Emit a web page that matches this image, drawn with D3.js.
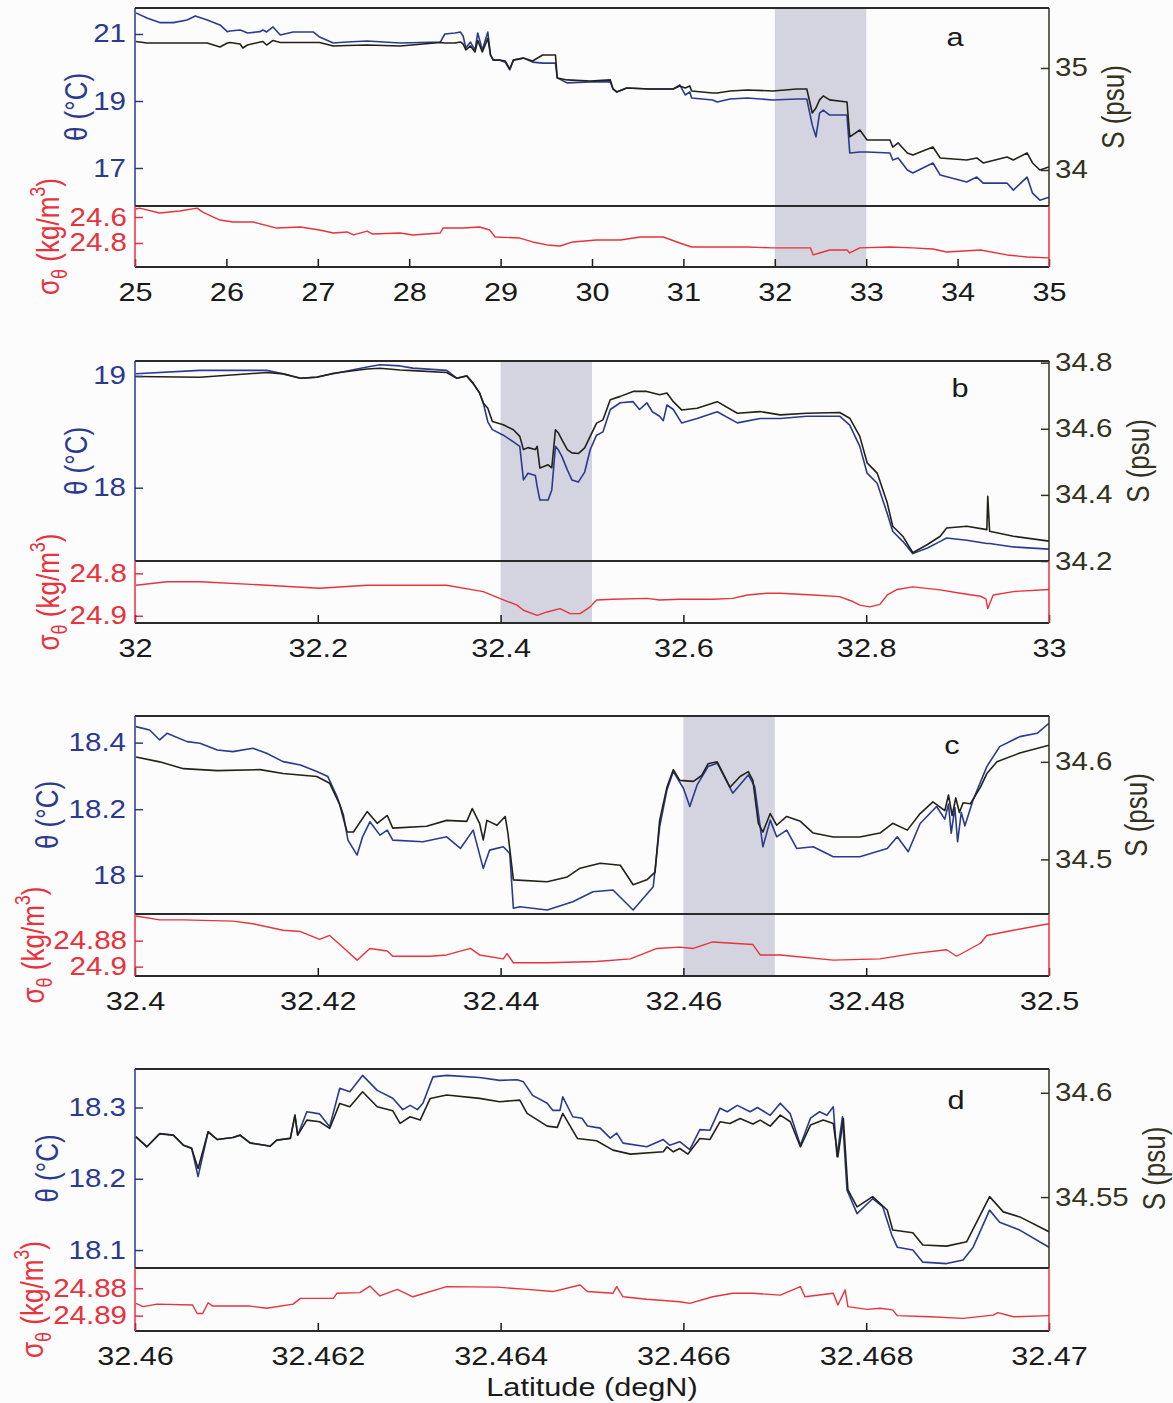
<!DOCTYPE html>
<html><head><meta charset="utf-8">
<script src="https://cdn.jsdelivr.net/npm/d3@7"></script>
<style>body{margin:0;background:#fcfcfd} svg{display:block} text{font-family:"Liberation Sans",Arial,sans-serif}</style>
</head><body><svg id="c" width="1173" height="1403"></svg>
<script>
// ---------------- DATA ----------------
// panel a : 25–35 degN
const thetaA = [[25.01,21.63],[25.13,21.48],[25.27,21.34],[25.42,21.34],[25.57,21.42],[25.66,21.54],[25.79,21.42],[25.93,21.27],[26.01,21.07],[26.04,21.09],[26.15,21.12],[26.18,21.09],[26.23,21.03],[26.37,21.07],[26.40,21.12],[26.44,21.06],[26.51,21.21],[26.59,20.97],[26.73,21.06],[26.95,21.06],[27.02,20.91],[27.17,20.73],[27.32,20.76],[27.54,20.79],[27.90,20.73],[28.34,20.76],[28.39,21.0],[28.50,21.03],[28.56,21.06],[28.59,20.94],[28.62,20.58],[28.67,20.76],[28.72,20.52],[28.75,21.03],[28.80,20.52],[28.86,21.06],[28.89,20.37],[28.92,20.22],[28.99,20.22],[29.05,20.16],[29.10,19.93],[29.14,20.22],[29.25,20.28],[29.35,20.16],[29.46,20.13],[29.60,20.13],[29.62,19.69],[29.73,19.54],[29.98,19.57],[30.20,19.57],[30.23,19.36],[30.27,19.27],[30.38,19.39],[30.63,19.36],[30.89,19.36],[30.96,19.48],[31.02,19.18],[31.07,19.27],[31.09,19.09],[31.32,19.03],[31.37,18.97],[31.51,19.06],[31.70,19.09],[31.98,19.03],[32.24,19.06],[32.35,19.06],[32.41,18.28],[32.45,17.93],[32.49,18.64],[32.53,18.73],[32.60,18.58],[32.79,18.58],[32.82,17.45],[32.93,17.48],[33.01,17.48],[33.26,17.45],[33.29,17.24],[33.35,17.30],[33.45,16.94],[33.51,16.85],[33.73,17.15],[33.81,16.79],[34.10,16.58],[34.21,16.73],[34.28,16.55],[34.54,16.55],[34.61,16.34],[34.76,16.73],[34.82,16.25],[34.90,16.04],[35.0,16.13]];
const salA = [[25.01,35.26],[25.13,35.245],[25.27,35.245],[25.42,35.245],[25.57,35.245],[25.66,35.245],[25.79,35.245],[25.93,35.206],[26.01,35.245],[26.04,35.25],[26.15,35.235],[26.18,35.196],[26.23,35.225],[26.37,35.255],[26.40,35.26],[26.44,35.225],[26.51,35.27],[26.59,35.25],[26.73,35.25],[26.95,35.25],[27.02,35.25],[27.17,35.216],[27.32,35.22],[27.54,35.225],[27.90,35.216],[28.34,35.25],[28.39,35.245],[28.50,35.245],[28.56,35.255],[28.59,35.235],[28.62,35.176],[28.67,35.216],[28.72,35.157],[28.75,35.27],[28.80,35.157],[28.86,35.29],[28.89,35.127],[28.92,35.078],[28.99,35.078],[29.05,35.069],[29.10,34.99],[29.14,35.078],[29.25,35.098],[29.35,35.069],[29.46,35.127],[29.60,35.127],[29.62,34.902],[29.73,34.883],[29.98,34.873],[30.20,34.883],[30.23,34.794],[30.27,34.765],[30.38,34.804],[30.63,34.794],[30.89,34.794],[30.96,34.824],[31.02,34.804],[31.07,34.824],[31.09,34.775],[31.32,34.755],[31.37,34.755],[31.51,34.775],[31.70,34.784],[31.98,34.775],[32.24,34.794],[32.35,34.794],[32.41,34.559],[32.45,34.608],[32.49,34.687],[32.53,34.726],[32.60,34.687],[32.79,34.667],[32.82,34.324],[32.93,34.392],[33.01,34.294],[33.26,34.294],[33.29,34.225],[33.35,34.265],[33.45,34.167],[33.51,34.147],[33.73,34.225],[33.81,34.118],[34.10,34.098],[34.21,34.118],[34.28,34.069],[34.54,34.128],[34.61,34.098],[34.76,34.167],[34.82,34.069],[34.90,34.0],[35.0,34.029]];
const sigmaA = [[25.01,24.538],[25.05,24.531],[25.27,24.569],[25.49,24.554],[25.68,24.531],[25.74,24.562],[25.93,24.623],[26.07,24.638],[26.29,24.638],[26.55,24.685],[26.81,24.677],[27.02,24.700],[27.17,24.723],[27.32,24.715],[27.39,24.738],[27.54,24.708],[27.60,24.731],[27.90,24.723],[28.04,24.738],[28.34,24.723],[28.37,24.685],[28.59,24.685],[28.77,24.677],[28.88,24.700],[28.94,24.754],[29.21,24.762],[29.35,24.792],[29.51,24.815],[29.65,24.823],[29.79,24.792],[30.05,24.777],[30.31,24.777],[30.53,24.754],[30.78,24.754],[30.96,24.800],[31.09,24.831],[31.32,24.831],[31.70,24.831],[31.98,24.838],[32.39,24.838],[32.42,24.892],[32.49,24.877],[32.60,24.854],[32.79,24.854],[32.82,24.877],[32.93,24.838],[33.26,24.831],[33.51,24.838],[33.73,24.846],[33.88,24.869],[34.25,24.854],[34.54,24.892],[34.76,24.908],[35.0,24.915]];
const xTicksA = [25,26,27,28,29,30,31,32,33,34,35];
const thetaTicksA = [17,19,21];
const salTicksA = [34,35];
const sigmaTicksA = [24.6,24.8];
const shadeA = [32,33];

// panel b : 32–33 degN
const thetaB = [[32.001,19.02],[32.071,19.05],[32.144,19.05],[32.162,19.02],[32.181,18.98],[32.199,18.99],[32.217,19.02],[32.254,19.08],[32.268,19.10],[32.290,19.09],[32.304,19.07],[32.341,19.05],[32.352,18.98],[32.363,19.0],[32.370,18.93],[32.377,18.85],[32.381,18.76],[32.386,18.59],[32.391,18.52],[32.403,18.47],[32.414,18.41],[32.421,18.37],[32.425,18.07],[32.430,18.13],[32.438,18.11],[32.440,18.01],[32.443,17.89],[32.452,17.89],[32.456,17.98],[32.460,18.37],[32.463,18.34],[32.467,18.28],[32.473,18.16],[32.478,18.07],[32.485,18.05],[32.492,18.14],[32.498,18.34],[32.505,18.47],[32.512,18.50],[32.520,18.70],[32.531,18.76],[32.545,18.77],[32.552,18.70],[32.560,18.76],[32.566,18.68],[32.574,18.64],[32.578,18.60],[32.582,18.74],[32.589,18.70],[32.598,18.58],[32.615,18.62],[32.637,18.68],[32.659,18.58],[32.684,18.62],[32.706,18.62],[32.735,18.64],[32.771,18.64],[32.782,18.56],[32.793,18.37],[32.801,18.13],[32.812,18.04],[32.823,17.77],[32.829,17.61],[32.840,17.52],[32.851,17.41],[32.867,17.46],[32.881,17.52],[32.888,17.55],[32.910,17.53],[32.932,17.50],[32.935,17.50],[32.961,17.47],[33.0,17.45]];
const salB = [[32.001,34.758],[32.071,34.756],[32.144,34.770],[32.162,34.766],[32.181,34.753],[32.199,34.756],[32.217,34.768],[32.254,34.781],[32.268,34.783],[32.290,34.778],[32.304,34.776],[32.341,34.770],[32.352,34.753],[32.363,34.760],[32.370,34.738],[32.377,34.708],[32.381,34.678],[32.386,34.662],[32.391,34.622],[32.403,34.612],[32.414,34.597],[32.421,34.577],[32.425,34.537],[32.430,34.543],[32.438,34.537],[32.440,34.547],[32.443,34.481],[32.452,34.491],[32.456,34.482],[32.460,34.597],[32.463,34.588],[32.467,34.567],[32.473,34.537],[32.478,34.527],[32.485,34.525],[32.492,34.542],[32.498,34.577],[32.505,34.617],[32.512,34.627],[32.520,34.688],[32.531,34.698],[32.545,34.713],[32.560,34.713],[32.574,34.703],[32.582,34.708],[32.589,34.682],[32.598,34.657],[32.615,34.662],[32.637,34.682],[32.659,34.647],[32.684,34.652],[32.706,34.642],[32.735,34.647],[32.771,34.649],[32.782,34.632],[32.793,34.577],[32.801,34.497],[32.812,34.466],[32.823,34.376],[32.829,34.305],[32.840,34.275],[32.851,34.225],[32.867,34.250],[32.881,34.275],[32.888,34.300],[32.910,34.305],[32.932,34.295],[32.933,34.396],[32.935,34.290],[32.961,34.275],[33.0,34.260]];
const sigmaB = [[32.001,24.828],[32.035,24.820],[32.071,24.820],[32.144,24.828],[32.202,24.835],[32.254,24.828],[32.290,24.828],[32.341,24.828],[32.370,24.839],[32.381,24.843],[32.399,24.859],[32.418,24.875],[32.425,24.887],[32.440,24.899],[32.451,24.891],[32.465,24.883],[32.476,24.895],[32.487,24.895],[32.498,24.879],[32.505,24.863],[32.523,24.861],[32.560,24.859],[32.574,24.863],[32.596,24.861],[32.632,24.861],[32.654,24.859],[32.670,24.851],[32.691,24.847],[32.706,24.847],[32.742,24.851],[32.771,24.855],[32.786,24.867],[32.793,24.875],[32.804,24.879],[32.815,24.873],[32.823,24.851],[32.834,24.838],[32.851,24.832],[32.881,24.839],[32.903,24.847],[32.925,24.854],[32.931,24.860],[32.933,24.883],[32.939,24.851],[32.961,24.843],[33.0,24.838]];
const xTicksB = [32,32.2,32.4,32.6,32.8,33];
const thetaTicksB = [18,19];
const salTicksB = [34.2,34.4,34.6,34.8];
const sigmaTicksB = [24.8,24.9];
const shadeB = [32.4,32.5];

// panel c : 32.4–32.5 degN
const thetaC = [[32.4001,18.448],[32.4016,18.438],[32.4027,18.408],[32.4035,18.428],[32.4057,18.403],[32.4071,18.398],[32.4090,18.378],[32.4107,18.373],[32.4129,18.383],[32.4144,18.368],[32.4162,18.343],[32.4181,18.333],[32.4199,18.313],[32.4211,18.298],[32.4221,18.238],[32.4228,18.183],[32.4233,18.107],[32.4243,18.062],[32.4249,18.117],[32.4257,18.162],[32.4268,18.122],[32.4276,18.137],[32.4282,18.107],[32.4315,18.102],[32.4341,18.117],[32.4356,18.082],[32.4370,18.137],[32.4381,18.022],[32.4388,18.077],[32.4403,18.087],[32.4410,18.067],[32.4414,17.902],[32.4421,17.907],[32.4451,17.897],[32.4479,17.922],[32.4501,17.952],[32.4523,17.957],[32.4545,17.897],[32.4567,17.967],[32.4574,18.147],[32.4582,18.258],[32.4589,18.313],[32.4600,18.263],[32.4607,18.208],[32.4615,18.273],[32.4627,18.328],[32.4637,18.338],[32.4654,18.248],[32.4671,18.303],[32.4678,18.268],[32.4687,18.087],[32.4695,18.167],[32.4702,18.117],[32.4713,18.137],[32.4724,18.082],[32.4742,18.087],[32.4764,18.057],[32.4793,18.057],[32.4823,18.082],[32.4834,18.117],[32.4846,18.072],[32.4859,18.157],[32.4877,18.208],[32.4886,18.170],[32.4890,18.215],[32.4893,18.128],[32.4897,18.205],[32.4900,18.102],[32.4904,18.190],[32.4908,18.150],[32.4917,18.228],[32.4932,18.328],[32.4946,18.388],[32.4968,18.418],[32.4987,18.428],[32.5,18.458]];
const salC = [[32.4001,34.605],[32.4027,34.600],[32.4053,34.593],[32.4090,34.591],[32.4137,34.592],[32.4162,34.588],[32.4199,34.585],[32.4213,34.578],[32.4224,34.556],[32.4232,34.528],[32.4239,34.528],[32.4254,34.549],[32.4265,34.537],[32.4276,34.545],[32.4282,34.532],[32.4319,34.534],[32.4341,34.540],[32.4363,34.539],[32.4369,34.552],[32.4377,34.537],[32.4381,34.520],[32.4385,34.540],[32.4396,34.535],[32.4405,34.544],[32.4408,34.527],[32.4414,34.479],[32.4451,34.477],[32.4473,34.482],[32.4487,34.491],[32.4509,34.496],[32.4531,34.494],[32.4545,34.474],[32.4560,34.479],[32.4569,34.487],[32.4574,34.540],[32.4582,34.574],[32.4589,34.592],[32.4596,34.581],[32.4611,34.580],[32.4620,34.586],[32.4627,34.598],[32.4637,34.600],[32.4651,34.574],[32.4662,34.585],[32.4671,34.590],[32.4676,34.581],[32.4682,34.537],[32.4687,34.528],[32.4695,34.547],[32.4702,34.535],[32.4713,34.544],[32.4728,34.539],[32.4742,34.527],[32.4764,34.523],[32.4793,34.523],[32.4815,34.527],[32.4829,34.537],[32.4845,34.530],[32.4859,34.547],[32.4873,34.559],[32.4886,34.550],[32.4890,34.566],[32.4894,34.545],[32.4898,34.563],[32.4902,34.548],[32.4906,34.558],[32.4914,34.557],[32.4925,34.574],[32.4932,34.588],[32.4943,34.600],[32.4968,34.609],[32.5,34.617]];
const sigmaC = [[32.4001,24.861],[32.4027,24.864],[32.4053,24.864],[32.4107,24.865],[32.4129,24.867],[32.4162,24.872],[32.4181,24.873],[32.4202,24.879],[32.4213,24.876],[32.4232,24.888],[32.4243,24.895],[32.4257,24.886],[32.4276,24.888],[32.4282,24.892],[32.4323,24.892],[32.4341,24.891],[32.4367,24.886],[32.4377,24.891],[32.4403,24.894],[32.4407,24.890],[32.4414,24.897],[32.4451,24.897],[32.4505,24.896],[32.4542,24.894],[32.4571,24.886],[32.4596,24.885],[32.4611,24.886],[32.4632,24.881],[32.4654,24.882],[32.4676,24.883],[32.4684,24.891],[32.4706,24.891],[32.4764,24.895],[32.4815,24.894],[32.4851,24.890],[32.4888,24.887],[32.4899,24.892],[32.4925,24.882],[32.4932,24.876],[32.4961,24.872],[32.5,24.867]];
const xTicksC = [32.4,32.42,32.44,32.46,32.48,32.5];
const thetaTicksC = [18,18.2,18.4];
const salTicksC = [34.5,34.6];
const sigmaTicksC = [24.88,24.9];
const shadeC = [32.46,32.47];

// panel d : 32.46–32.47 degN
const thetaD = [[32.46001,18.259],[32.46013,18.245],[32.46027,18.263],[32.46042,18.261],[32.46053,18.247],[32.46062,18.243],[32.46069,18.203],[32.46080,18.266],[32.46090,18.255],[32.46107,18.258],[32.46115,18.261],[32.46126,18.250],[32.46148,18.246],[32.46155,18.254],[32.46170,18.257],[32.46175,18.289],[32.46178,18.261],[32.46188,18.294],[32.46202,18.291],[32.46213,18.273],[32.46224,18.327],[32.46235,18.322],[32.46249,18.345],[32.46265,18.324],[32.46282,18.313],[32.46293,18.297],[32.46301,18.303],[32.46309,18.297],[32.46315,18.306],[32.46326,18.343],[32.46341,18.345],[32.46377,18.342],[32.46399,18.338],[32.46418,18.339],[32.46425,18.336],[32.46435,18.317],[32.46451,18.306],[32.46457,18.296],[32.46465,18.296],[32.46468,18.315],[32.46479,18.287],[32.46489,18.285],[32.46495,18.274],[32.46509,18.271],[32.46520,18.257],[32.46527,18.264],[32.46534,18.250],[32.46560,18.245],[32.46578,18.255],[32.46585,18.247],[32.46596,18.252],[32.46607,18.241],[32.46618,18.269],[32.46629,18.268],[32.46640,18.299],[32.46648,18.294],[32.46659,18.303],[32.46673,18.294],[32.46681,18.300],[32.46695,18.289],[32.46706,18.306],[32.46717,18.291],[32.46728,18.247],[32.46739,18.285],[32.46749,18.294],[32.46757,18.289],[32.46764,18.301],[32.46768,18.231],[32.46774,18.287],[32.46779,18.184],[32.46790,18.151],[32.46807,18.172],[32.46818,18.161],[32.46828,18.121],[32.46834,18.104],[32.46851,18.100],[32.46862,18.083],[32.46888,18.081],[32.46906,18.086],[32.46917,18.104],[32.46935,18.156],[32.46946,18.139],[32.46968,18.128],[32.47,18.104]];
const salD = [[32.46001,34.5789],[32.46013,34.5741],[32.46027,34.5805],[32.46042,34.5797],[32.46053,34.5749],[32.46062,34.5733],[32.46069,34.5637],[32.46080,34.5813],[32.46090,34.5776],[32.46107,34.5786],[32.46115,34.5797],[32.46126,34.5760],[32.46148,34.5744],[32.46155,34.5773],[32.46170,34.5781],[32.46175,34.5893],[32.46178,34.5797],[32.46188,34.5869],[32.46202,34.5861],[32.46213,34.5829],[32.46224,34.5949],[32.46235,34.5933],[32.46249,34.6005],[32.46265,34.5933],[32.46282,34.5914],[32.46290,34.5853],[32.46301,34.5885],[32.46312,34.5869],[32.46323,34.5973],[32.46341,34.5989],[32.46377,34.5973],[32.46399,34.5957],[32.46421,34.5965],[32.46429,34.5901],[32.46451,34.5840],[32.46462,34.5834],[32.46468,34.5901],[32.46484,34.5781],[32.46505,34.5770],[32.46523,34.5725],[32.46542,34.5706],[32.46578,34.5717],[32.46582,34.5741],[32.46589,34.5717],[32.46596,34.5733],[32.46605,34.5706],[32.46618,34.5781],[32.46629,34.5776],[32.46640,34.5861],[32.46651,34.5853],[32.46662,34.5877],[32.46676,34.5850],[32.46684,34.5869],[32.46695,34.5840],[32.46706,34.5893],[32.46717,34.5861],[32.46728,34.5741],[32.46739,34.5845],[32.46753,34.5869],[32.46764,34.5853],[32.46769,34.5693],[32.46775,34.5877],[32.46780,34.5534],[32.46790,34.5453],[32.46807,34.5502],[32.46823,34.5438],[32.46829,34.5342],[32.46851,34.5329],[32.46862,34.5270],[32.46888,34.5265],[32.46910,34.5286],[32.46935,34.5502],[32.46950,34.5429],[32.46968,34.5405],[32.47,34.5334]];
const sigmaD = [[32.46001,24.8855],[32.46009,24.8867],[32.46024,24.8858],[32.46063,24.8861],[32.46068,24.8892],[32.46074,24.8892],[32.46080,24.8853],[32.46085,24.8865],[32.46126,24.8865],[32.46144,24.8873],[32.46173,24.8858],[32.46181,24.8837],[32.46217,24.8837],[32.46221,24.8818],[32.46246,24.8816],[32.46257,24.8792],[32.46268,24.8828],[32.46287,24.8804],[32.46304,24.8831],[32.46341,24.8794],[32.46396,24.8796],[32.46429,24.8804],[32.46457,24.8812],[32.46487,24.8788],[32.46495,24.8812],[32.46523,24.8818],[32.46527,24.8794],[32.46534,24.8831],[32.46560,24.8840],[32.46596,24.8849],[32.46607,24.8855],[32.46632,24.8831],[32.46654,24.8818],[32.46676,24.8818],[32.46706,24.8825],[32.46728,24.8794],[32.46733,24.8831],[32.46764,24.8818],[32.46769,24.8861],[32.46777,24.8806],[32.46780,24.8867],[32.46801,24.8877],[32.46815,24.8873],[32.46829,24.8879],[32.46834,24.8900],[32.46870,24.8904],[32.46906,24.8910],[32.46939,24.8898],[32.46944,24.8889],[32.46961,24.8904],[32.47,24.8900]];
const xTicksD = [32.46,32.462,32.464,32.466,32.468,32.47];
const thetaTicksD = [18.1,18.2,18.3];
const salTicksD = [34.55,34.6];
const sigmaTicksD = [24.88,24.89];
const shadeD = null;

const panelLetters = ["a","b","c","d"];

// ---------------- CONFIG ----------------
const panels = [
  {theta:thetaA, sal:salA, sigma:sigmaA, xT:xTicksA, thT:thetaTicksA, sT:salTicksA, sgT:sigmaTicksA, shade:shadeA,
   xDom:[25,35], thDom:[15.866,21.776], sDom:[33.647,35.588], sgDom:[24.515,24.985],
   top:8, mid:206, bot:267, thLab:87, sgLab:59, sLab:1124, let:[955,46]},
  {theta:thetaB, sal:salB, sigma:sigmaB, xT:xTicksB, thT:thetaTicksB, sT:salTicksB, sgT:sigmaTicksB, shade:shadeB,
   xDom:[32,33], thDom:[17.344,19.134], sDom:[34.2,34.805], sgDom:[24.771,24.917],
   top:361, mid:561, bot:623, thLab:87, sgLab:59, sLab:1149, let:[960,397]},
  {theta:thetaC, sal:salC, sigma:sigmaC, xT:xTicksC, thT:thetaTicksC, sT:salTicksC, sgT:sigmaTicksC, shade:shadeC,
   xDom:[32.4,32.5], thDom:[17.885,18.480], sDom:[34.444,34.647], sgDom:[24.8595,24.9072],
   top:716, mid:914, bot:976, thLab:58, sgLab:44, sLab:1147, let:[952,754]},
  {theta:thetaD, sal:salD, sigma:sigmaD, xT:xTicksD, thT:thetaTicksD, sT:salTicksD, sgT:sigmaTicksD, shade:shadeD,
   xDom:[32.46,32.47], thDom:[18.0748,18.354], sDom:[34.516,34.6114], sgDom:[24.8726,24.8956],
   top:1069, mid:1268, bot:1331, thLab:58, sgLab:43, sLab:1165, let:[956,1109]}
];

const L = 135, R = 1049, SX = 1.18;
const BLUE = "#2b3a8e", BLK = "#222218", RED = "#e8323c", OLIVE = "#33331f", SHADE = "#d3d4e0";
const fmt = d => String(+d.toFixed(4));

const svg = d3.select("#c");
svg.append("rect").attr("width",1173).attr("height",1403).attr("fill","#fcfcfd");
const defs = svg.append("defs");

function stretchText(sel){
  sel.each(function(){
    const t = d3.select(this);
    const x = +t.attr("x") || 0;
    t.attr("transform", `translate(${x},0) scale(${SX},1) translate(${-x},0)`);
  });
}

panels.forEach((p,i)=>{
  const x  = d3.scaleLinear().domain(p.xDom).range([L,R]);
  const yT = d3.scaleLinear().domain(p.thDom).range([p.mid,p.top]);
  const yS = d3.scaleLinear().domain(p.sDom).range([p.mid,p.top]);
  const yD = d3.scaleLinear().domain(p.sgDom).range([p.mid,p.bot]);

  defs.append("clipPath").attr("id","cu"+i).append("rect").attr("x",L).attr("y",p.top).attr("width",R-L).attr("height",p.mid-p.top);
  defs.append("clipPath").attr("id","cl"+i).append("rect").attr("x",L).attr("y",p.mid).attr("width",R-L).attr("height",p.bot-p.mid);

  const g = svg.append("g");
  if (p.shade) {
    g.append("rect").attr("x",x(p.shade[0])).attr("width",x(p.shade[1])-x(p.shade[0]))
      .attr("y",p.top).attr("height",p.bot-p.top).attr("fill",SHADE);
  }
  const up = g.append("g").attr("clip-path",`url(#cu${i})`);
  up.append("path").datum(p.theta).attr("fill","none").attr("stroke",BLUE).attr("stroke-width",1.6).attr("stroke-linejoin","round")
    .attr("d", d3.line().x(d=>x(d[0])).y(d=>yT(d[1])));
  up.append("path").datum(p.sal).attr("fill","none").attr("stroke",BLK).attr("stroke-width",1.6).attr("stroke-linejoin","round")
    .attr("d", d3.line().x(d=>x(d[0])).y(d=>yS(d[1])));
  const lo = g.append("g").attr("clip-path",`url(#cl${i})`);
  lo.append("path").datum(p.sigma).attr("fill","none").attr("stroke",RED).attr("stroke-width",1.4).attr("stroke-linejoin","round")
    .attr("d", d3.line().x(d=>x(d[0])).y(d=>yD(d[1])));

  // axes
  const ax = (axis, tx, ty, col, size) => {
    const a = g.append("g").attr("transform",`translate(${tx},${ty})`).call(axis);
    a.select(".domain").remove();
    a.selectAll("line").attr("stroke",col).attr("stroke-width",1.5);
    a.selectAll("text").attr("fill",col).attr("font-size",size).attr("font-family","'Liberation Sans',Arial,sans-serif").call(stretchText);
    return a;
  };
  ax(d3.axisLeft(yT).tickValues(p.thT).tickSize(-8).tickPadding(9).tickFormat(fmt), L, 0, BLUE, 25);
  ax(d3.axisRight(yS).tickValues(p.sT).tickSize(-8).tickPadding(6).tickFormat(fmt), R, 0, OLIVE, 25);
  ax(d3.axisLeft(yD).tickValues(p.sgT).tickSize(-8).tickPadding(8).tickFormat(fmt), L, 0, RED, 25);
  ax(d3.axisBottom(x).tickValues(p.xT).tickSize(-8).tickPadding(16).tickFormat(fmt), 0, p.bot, "#1a1a1a", 26);

  // frame
  const seg = (x1,y1,x2,y2,c,w) => g.append("line").attr("x1",x1).attr("y1",y1).attr("x2",x2).attr("y2",y2).attr("stroke",c).attr("stroke-width",w);
  seg(L,p.top,R,p.top,"#2a2a2a",2);
  seg(L,p.mid,R,p.mid,"#2a2a2a",2);
  seg(L,p.bot,R,p.bot,"#2a2a2a",2);
  seg(L,p.top,L,p.mid,BLUE,1.5);
  seg(R,p.top,R,p.mid,OLIVE,1.5);
  seg(L,p.mid,L,p.bot,RED,1.5);
  seg(R,p.mid,R,p.bot,RED,1.5);

  // axis labels
  const upC = (p.top+p.mid)/2, loC = (p.mid+p.bot)/2;
  g.append("text").attr("transform",`translate(${p.thLab},${upC}) scale(${SX},1) rotate(-90)`)
    .attr("text-anchor","middle").attr("font-size",26).attr("fill",BLUE).text("θ (°C)");
  g.append("text").attr("transform",`translate(${p.sLab},${upC}) scale(${SX},1) rotate(-90)`)
    .attr("text-anchor","middle").attr("font-size",26).attr("fill",OLIVE).text("S (psu)");
  const sg = g.append("text").attr("transform",`translate(${p.sgLab},${loC}) scale(${SX},1) rotate(-90)`)
    .attr("text-anchor","middle").attr("font-size",26).attr("fill",RED);
  sg.append("tspan").text("σ");
  sg.append("tspan").attr("dy",7).attr("font-size",18).text("θ");
  sg.append("tspan").attr("dy",-7).text(" (kg/m");
  sg.append("tspan").attr("dy",-12).attr("font-size",18).text("3");
  sg.append("tspan").attr("dy",12).text(")");

  g.append("text").attr("transform",`translate(${p.let[0]},${p.let[1]}) scale(${SX},1)`)
    .attr("text-anchor","middle").attr("font-size",26).attr("fill","#1a1a1a").text(panelLetters[i]);
});

svg.append("text").attr("transform",`translate(592,1396) scale(${SX},1)`).attr("text-anchor","middle")
  .attr("font-size",26).attr("fill","#1a1a1a").text("Latitude (degN)");
</script>
</body></html>
